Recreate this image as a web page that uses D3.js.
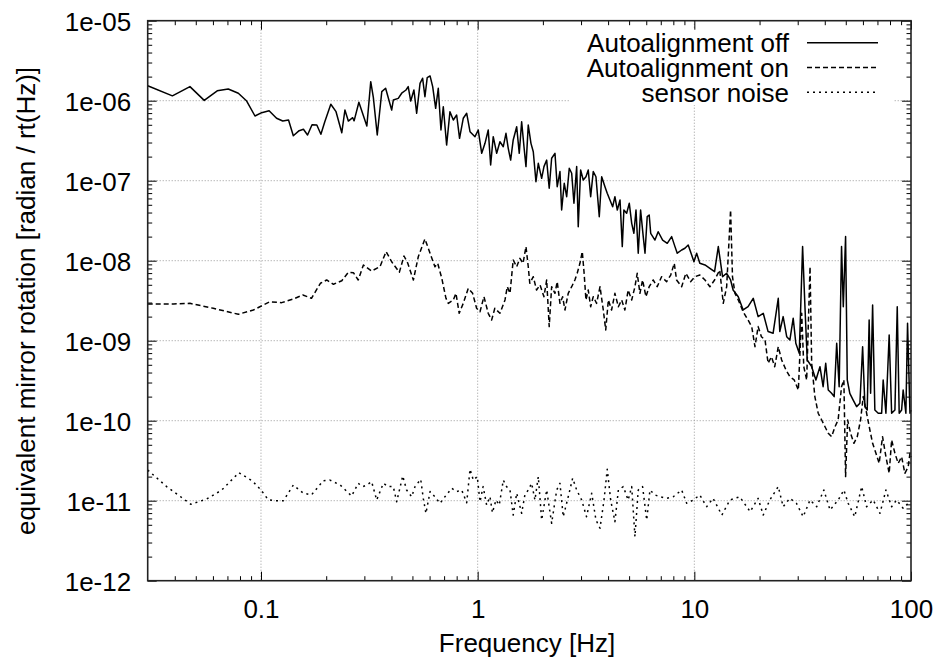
<!DOCTYPE html>
<html>
<head>
<meta charset="utf-8">
<script src="https://cdn.jsdelivr.net/npm/d3@7"></script>
<style>
body { margin: 0; background: #fff; }
svg { display: block; font-family: "Liberation Sans", Arial, Helvetica, sans-serif; }
</style>
</head>
<body>
<svg id="chart" width="935" height="664"></svg>
<script>
// [frequency Hz, amplitude rad/rtHz]
let autoOff = [[0.03,1.54e-6],[0.039,1.15e-6],[0.047,1.50e-6],[0.0547,1.01e-6],[0.0628,1.33e-6],[0.0706,1.40e-6],[0.0786,1.24e-6],[0.0859,9.9e-7],[0.0938,6.44e-7],[0.1007,7.08e-7],[0.109,7.50e-7],[0.118,6.03e-7],[0.126,5.57e-7],[0.134,5.74e-7],[0.141,3.65e-7],[0.150,4.22e-7],[0.157,4.39e-7],[0.164,3.73e-7],[0.172,5.01e-7],[0.181,4.97e-7],[0.189,3.80e-7],[0.197,5.46e-7],[0.210,9.02e-7],[0.222,7.29e-7],[0.236,3.98e-7],[0.244,7.65e-7],[0.253,5.57e-7],[0.265,6.13e-7],[0.269,5.6e-7],[0.283,9.55e-7],[0.308,4.83e-7],[0.321,1.73e-6],[0.330,1.10e-6],[0.344,3.73e-7],[0.361,1.30e-6],[0.376,1.43e-6],[0.401,7.65e-7],[0.408,1.02e-6],[0.430,1.07e-6],[0.446,1.24e-6],[0.467,1.36e-6],[0.478,1.50e-6],[0.491,9.9e-7],[0.508,1.36e-6],[0.523,6.96e-7],[0.542,1.65e-6],[0.557,1.91e-6],[0.571,1.12e-6],[0.585,1.94e-6],[0.603,2.04e-6],[0.620,1.50e-6],[0.640,8.04e-7],[0.658,1.43e-6],[0.677,4.30e-7],[0.694,8.41e-7],[0.719,2.79e-7],[0.745,7.29e-7],[0.772,5.74e-7],[0.800,6.62e-7],[0.825,3.39e-7],[0.858,6.03e-7],[0.890,6.96e-7],[0.922,4.10e-7],[0.972,3.55e-7],[1.006,4.30e-7],[1.044,2.20e-7],[1.081,2.93e-7],[1.119,4.30e-7],[1.148,1.57e-7],[1.180,3.55e-7],[1.224,2.20e-7],[1.267,3.07e-7],[1.313,2.66e-7],[1.351,3.91e-7],[1.384,2.54e-7],[1.420,1.81e-7],[1.459,3.23e-7],[1.514,4.73e-7],[1.556,2.20e-7],[1.596,5.46e-7],[1.636,2.66e-7],[1.671,1.50e-7],[1.712,4.97e-7],[1.762,2.93e-7],[1.806,2.30e-7],[1.858,9.7e-8],[1.905,1.65e-7],[1.974,1.07e-7],[2.023,1.50e-7],[2.082,1.81e-7],[2.139,8.04e-8],[2.195,1.91e-7],[2.274,2.20e-7],[2.329,8.41e-8],[2.398,1.30e-7],[2.441,4.30e-8],[2.510,9.28e-8],[2.575,6.31e-8],[2.647,1.43e-7],[2.716,1.24e-7],[2.782,5.22e-8],[2.864,1.50e-7],[2.912,2.66e-8],[2.987,1.36e-7],[3.071,1.02e-7],[3.161,1.12e-7],[3.239,1.36e-7],[3.323,6.31e-8],[3.416,1.30e-7],[3.515,1.12e-7],[3.641,3.55e-8],[3.736,1.12e-7],[3.868,8.41e-8],[3.963,6.96e-8],[4.079,5.74e-8],[4.198,4.73e-8],[4.30,6.31e-8],[4.41,4.30e-8],[4.54,5.74e-8],[4.65,1.50e-8],[4.73,4.30e-8],[4.87,3.91e-8],[5.01,5.22e-8],[5.14,2.93e-8],[5.26,2.20e-8],[5.38,4.30e-8],[5.51,1.24e-8],[5.65,4.30e-8],[5.81,2.0e-8],[5.92,1.24e-8],[6.06,3.55e-8],[6.19,3.73e-8],[6.29,2.20e-8],[6.58,1.81e-8],[6.81,2.30e-8],[7.14,1.81e-8],[7.50,1.65e-8],[7.86,2.0e-8],[8.14,1.50e-8],[8.34,1.24e-8],[8.74,1.36e-8],[9.05,1.43e-8],[9.37,1.57e-8],[9.72,1.18e-8],[9.96,9.7e-9],[10.25,1.24e-8],[10.6,9.28e-9],[11.2,8.84e-9],[11.8,8.04e-9],[12.4,7.29e-9],[12.9,1.50e-8],[13.5,6.31e-9],[14.1,6.96e-9],[14.7,5.74e-9],[15.1,4.30e-9],[15.95,3.55e-9],[16.8,2.42e-9],[17.7,2.66e-9],[18.7,3.39e-9],[19.7,2.0e-9],[20.8,2.20e-9],[21.9,1.30e-9],[23.1,1.24e-9],[24.4,3.39e-9],[24.8,1.30e-9],[25.7,2.0e-9],[26.7,1.12e-9],[27.6,1.02e-9],[28.6,1.91e-9],[29.4,9.28e-10],[30.5,6.96e-10],[31.6,1.50e-8],[32.4,2.66e-9],[33.2,5.74e-10],[34.8,4.73e-10],[36.4,3.23e-10],[38.0,4.73e-10],[39.3,2.66e-10],[40.4,5.22e-10],[41.5,2.42e-10],[43.0,2.20e-10],[44.2,2.0e-10],[45.4,9.28e-10],[46.6,2.66e-10],[47.8,1.50e-8],[48.7,2.66e-9],[49.9,2.0e-8],[50.8,3.23e-10],[52.2,2.20e-10],[54.1,1.81e-10],[56.1,1.50e-10],[58.1,1.65e-10],[59.8,8.41e-10],[61.3,1.50e-10],[62.8,1.36e-10],[64.1,1.81e-9],[65.1,2.20e-10],[66.5,2.79e-9],[68.1,1.36e-10],[70.6,1.24e-10],[73.2,1.24e-10],[74.4,3.23e-10],[76.6,1.24e-10],[79.3,1.18e-9],[81.4,1.24e-10],[84.3,1.36e-10],[86.4,2.66e-9],[88.2,1.24e-10],[90.5,1.36e-10],[92.0,2.42e-10],[94.7,1.24e-10],[96.4,1.65e-9],[98.9,1.24e-10],[100,1.36e-10]]

let autoOn = [[0.03,2.88e-9],[0.0395,2.88e-9],[0.047,2.93e-9],[0.0602,2.54e-9],[0.0786,2.14e-9],[0.0922,2.42e-9],[0.110,3.07e-9],[0.1246,2.99e-9],[0.141,3.32e-9],[0.156,3.73e-9],[0.171,3.39e-9],[0.188,5.22e-9],[0.201,5.74e-9],[0.216,5.07e-9],[0.236,5.62e-9],[0.253,7.16e-9],[0.267,7.08e-9],[0.281,5.74e-9],[0.297,8.84e-9],[0.324,7.43e-9],[0.354,8.41e-9],[0.378,1.30e-8],[0.401,9.7e-9],[0.435,7.16e-9],[0.457,1.145e-8],[0.475,9.4e-9],[0.505,5.74e-9],[0.532,1.12e-8],[0.571,1.87e-8],[0.603,1.24e-8],[0.635,8.41e-9],[0.654,9.28e-9],[0.683,6.03e-9],[0.714,3.39e-9],[0.732,2.93e-9],[0.772,3.23e-9],[0.794,3.91e-9],[0.822,2.20e-9],[0.858,2.93e-9],[0.905,4.52e-9],[0.948,3.91e-9],[0.989,2.54e-9],[1.025,2.30e-9],[1.069,3.55e-9],[1.119,2.20e-9],[1.16,1.81e-9],[1.20,2.54e-9],[1.267,2.20e-9],[1.337,3.23e-9],[1.37,4.73e-9],[1.41,3.91e-9],[1.459,1.02e-8],[1.514,8.41e-9],[1.567,1.07e-8],[1.62,9.28e-9],[1.671,1.50e-8],[1.712,8.41e-9],[1.74,5.22e-9],[1.806,6.31e-9],[1.87,4.30e-9],[1.94,4.97e-9],[2.023,3.55e-9],[2.082,5.74e-9],[2.139,1.50e-9],[2.195,4.73e-9],[2.274,3.91e-9],[2.329,5.46e-9],[2.398,2.93e-9],[2.467,3.55e-9],[2.529,2.42e-9],[2.618,3.91e-9],[2.716,4.73e-9],[2.81,5.74e-9],[2.88,6.96e-9],[2.965,9.28e-9],[3.04,1.30e-8],[3.10,6.96e-9],[3.161,3.23e-9],[3.239,4.30e-9],[3.323,2.66e-9],[3.416,3.55e-9],[3.54,2.93e-9],[3.67,4.73e-9],[3.80,2.42e-9],[3.90,1.36e-9],[4.01,3.23e-9],[4.15,2.42e-9],[4.30,3.91e-9],[4.46,2.66e-9],[4.62,3.23e-9],[4.78,2.42e-9],[4.95,4.30e-9],[5.14,3.23e-9],[5.32,4.73e-9],[5.45,6.96e-9],[5.61,3.91e-9],[5.77,5.74e-9],[5.98,3.55e-9],[6.19,4.73e-9],[6.46,5.74e-9],[6.74,4.73e-9],[7.06,6.31e-9],[7.45,5.46e-9],[7.78,6.62e-9],[8.08,9.28e-9],[8.28,5.74e-9],[8.74,4.73e-9],[9.14,6.96e-9],[9.61,5.46e-9],[10.06,6.31e-9],[10.6,6.62e-9],[11.2,5.74e-9],[11.8,4.73e-9],[12.4,5.74e-9],[13.1,7.65e-9],[13.6,2.93e-9],[14.1,4.73e-9],[14.7,4.30e-8],[15.0,6.31e-9],[15.4,3.91e-9],[15.95,3.23e-9],[16.8,2.30e-9],[17.7,1.81e-9],[18.4,1.50e-9],[19.05,8.41e-10],[19.7,1.50e-9],[20.4,1.12e-9],[21.2,1.02e-9],[21.9,5.22e-10],[22.7,6.31e-10],[23.5,4.73e-10],[24.4,8.41e-10],[25.3,5.74e-10],[26.5,4.30e-10],[27.6,3.55e-10],[28.9,3.23e-10],[30.2,2.42e-10],[31.3,2.20e-9],[32.0,4.73e-10],[33.0,3.23e-10],[34.2,8.41e-9],[34.8,5.22e-10],[36.0,2.0e-10],[37.3,1.24e-10],[38.7,1.02e-10],[40.1,8.41e-11],[41.5,6.96e-11],[43.0,6.31e-11],[44.6,8.41e-11],[46.1,1.02e-10],[47.8,2.66e-10],[49.0,3.23e-10],[49.9,2.0e-11],[51.0,1.02e-10],[52.6,6.96e-11],[54.5,5.22e-11],[56.5,6.31e-11],[58.5,1.02e-10],[60.2,2.0e-10],[62.4,1.24e-10],[64.6,7.65e-11],[66.5,5.22e-11],[68.9,3.91e-11],[71.3,2.93e-11],[73.9,6.31e-11],[76.6,3.55e-11],[79.3,2.20e-11],[81.4,5.74e-11],[84.3,3.91e-11],[87.3,2.93e-11],[90.5,3.55e-11],[93.7,2.20e-11],[97.1,2.66e-11],[98.9,3.91e-11],[100,3.5e-11]]

let sensorNoise = [[0.03,2.42e-11],[0.0367,1.50e-11],[0.0475,9.02e-12],[0.0562,1.05e-11],[0.0659,1.36e-11],[0.0791,2.24e-11],[0.0914,1.76e-11],[0.1,1.36e-11],[0.108,1.03e-11],[0.116,1.0e-11],[0.127,1.0e-11],[0.141,1.57e-11],[0.157,1.24e-11],[0.171,1.18e-11],[0.194,1.78e-11],[0.208,1.81e-11],[0.232,1.57e-11],[0.262,1.145e-11],[0.281,1.65e-11],[0.295,1.50e-11],[0.308,1.57e-11],[0.324,1.73e-11],[0.342,1.02e-11],[0.367,1.65e-11],[0.387,1.50e-11],[0.408,1.50e-11],[0.423,9.7e-12],[0.451,2.04e-11],[0.470,1.36e-11],[0.496,1.12e-11],[0.514,1.50e-11],[0.546,1.85e-11],[0.561,1.07e-11],[0.577,6.96e-12],[0.603,1.30e-11],[0.635,1.12e-11],[0.670,9.28e-12],[0.706,1.12e-11],[0.759,1.43e-11],[0.80,1.30e-11],[0.844,1.36e-11],[0.89,9.44e-12],[0.922,2.47e-11],[0.955,1.81e-11],[0.996,2.0e-11],[1.025,9.7e-12],[1.06,1.50e-11],[1.10,8.84e-12],[1.14,1.12e-11],[1.17,7.08e-12],[1.215,1.02e-11],[1.258,8.84e-12],[1.313,1.81e-11],[1.36,1.50e-11],[1.41,1.36e-11],[1.459,6.62e-12],[1.514,1.24e-11],[1.596,6.96e-12],[1.652,1.18e-11],[1.712,1.36e-11],[1.775,1.65e-11],[1.838,1.02e-11],[1.905,2.0e-11],[1.974,5.74e-12],[2.082,1.36e-11],[2.195,5.22e-12],[2.316,1.36e-11],[2.398,1.65e-11],[2.483,6.31e-12],[2.618,1.12e-11],[2.744,1.91e-11],[2.864,1.36e-11],[3.02,1.02e-11],[3.18,6.31e-12],[3.36,1.24e-11],[3.515,5.74e-12],[3.67,4.52e-12],[3.83,1.02e-11],[3.963,2.47e-11],[4.11,1.02e-11],[4.30,5.46e-12],[4.46,1.36e-11],[4.70,1.50e-11],[4.95,1.02e-11],[5.14,1.50e-11],[5.32,3.55e-12],[5.51,1.36e-11],[5.77,1.50e-11],[6.03,5.74e-12],[6.24,1.36e-11],[6.58,1.18e-11],[6.94,1.12e-11],[7.45,1.07e-11],[7.99,1.12e-11],[8.74,1.36e-11],[9.22,9.28e-12],[9.89,1.02e-11],[10.6,1.18e-11],[11.4,8.41e-12],[12.2,1.07e-11],[13.4,6.62e-12],[14.6,1.02e-11],[16.2,1.12e-11],[18.1,7.29e-12],[19.7,1.07e-11],[20.8,6.62e-12],[22.3,1.02e-11],[24.4,1.50e-11],[25.7,8.41e-12],[27.6,1.07e-11],[29.6,9.28e-12],[31.8,6.31e-12],[34.2,1.02e-11],[36.7,8.41e-12],[39.6,1.36e-11],[42.3,7.65e-12],[46.1,1.02e-11],[49.0,1.36e-11],[51.3,9.28e-12],[55.0,6.31e-12],[59.2,1.50e-11],[62.4,8.41e-12],[66.9,1.02e-11],[71.9,6.96e-12],[76.6,1.36e-11],[81.4,8.41e-12],[85.8,1.02e-11],[92.0,8.04e-12],[97.1,9.28e-12],[100,8.84e-12]]

let seriesNames = ["Autoalignment off", "Autoalignment on", "sensor noise"]
let xTickValues = [0.1, 1, 10, 100]
let xTickLabels = ["0.1", "1", "10", "100"]
let yTickValues = [1e-12, 1e-11, 1e-10, 1e-9, 1e-8, 1e-7, 1e-6, 1e-5]
let yTickLabels = ["1e-12", "1e-11", "1e-10", "1e-09", "1e-08", "1e-07", "1e-06", "1e-05"]

let plotLeft = 147.7, plotRight = 911, plotTop = 20.7, plotBottom = 580.7
let fontSize = 26

let svg = d3.select("#chart")

let x = d3.scaleLog().domain([0.03, 100]).range([plotLeft, plotRight])
let y = d3.scaleLog().domain([1e-12, 1e-5]).range([plotBottom, plotTop])

let minorX = []
;[0.01, 0.1, 1, 10].forEach((d) => {
    for (let k = 2; k < 10; k++) {
        let v = d * k
        if (v > 0.0301 && v < 100) minorX.push(v)
    }
})
let minorY = []
yTickValues.slice(0, -1).forEach((d) => {
    for (let k = 2; k < 10; k++) minorY.push(d * k)
})

// grid
let grid = svg.append("g")
    .attr("stroke", "#999")
    .attr("stroke-width", 1)
    .attr("stroke-dasharray", "1,2")
grid.selectAll(".gx")
    .data(xTickValues.slice(0, -1))
    .enter()
    .append("line")
    .attr("x1", (d) => x(d)).attr("x2", (d) => x(d))
    .attr("y1", plotTop).attr("y2", plotBottom)
grid.selectAll(".gy")
    .data(yTickValues.slice(1, -1))
    .enter()
    .append("line")
    .attr("x1", plotLeft).attr("x2", plotRight)
    .attr("y1", (d) => y(d)).attr("y2", (d) => y(d))

// legend background hides the grid
svg.append("rect")
    .attr("x", 570).attr("y", 28)
    .attr("width", 323).attr("height", 77)
    .attr("fill", "#fff")

// curves
let line = d3.line()
    .x((d) => x(d[0]))
    .y((d) => y(d[1]))

let dashes = [null, "5,3", "2,4"]
let allSeries = [autoOff, autoOn, sensorNoise]

svg.selectAll(".curve")
    .data(allSeries)
    .enter()
    .append("path")
    .attr("class", "curve")
    .attr("d", line)
    .attr("fill", "none")
    .attr("stroke", "#000")
    .attr("stroke-width", 1.5)
    .attr("stroke-linejoin", "round")
    .attr("stroke-dasharray", (d, i) => dashes[i])

// axes
let styleAxis = (g) => {
    g.select(".domain").remove()
    g.attr("font-size", fontSize)
        .attr("font-family", null)
    g.selectAll("line").attr("stroke", "#000")
    g.selectAll("text").attr("fill", "#000")
}

svg.append("g")
    .attr("transform", `translate(0,${plotBottom})`)
    .call(d3.axisBottom(x).tickValues(xTickValues)
        .tickFormat((d, i) => xTickLabels[i])
        .tickSize(-9).tickPadding(19))
    .call(styleAxis)
svg.append("g")
    .attr("transform", `translate(0,${plotBottom})`)
    .call(d3.axisBottom(x).tickValues(minorX).tickFormat("").tickSize(-4.5))
    .call(styleAxis)
svg.append("g")
    .attr("transform", `translate(0,${plotTop})`)
    .call(d3.axisTop(x).tickValues(xTickValues).tickFormat("").tickSize(-9))
    .call(styleAxis)
svg.append("g")
    .attr("transform", `translate(0,${plotTop})`)
    .call(d3.axisTop(x).tickValues(minorX).tickFormat("").tickSize(-4.5))
    .call(styleAxis)

svg.append("g")
    .attr("transform", `translate(${plotLeft},0)`)
    .call(d3.axisLeft(y).tickValues(yTickValues)
        .tickFormat((d, i) => yTickLabels[i])
        .tickSize(-9).tickPadding(16.5))
    .call(styleAxis)
    .call((g) => g.selectAll("text").attr("dy", "0.38em"))
svg.append("g")
    .attr("transform", `translate(${plotLeft},0)`)
    .call(d3.axisLeft(y).tickValues(minorY).tickFormat("").tickSize(-4.5))
    .call(styleAxis)
svg.append("g")
    .attr("transform", `translate(${plotRight},0)`)
    .call(d3.axisRight(y).tickValues(yTickValues).tickFormat("").tickSize(-9))
    .call(styleAxis)
svg.append("g")
    .attr("transform", `translate(${plotRight},0)`)
    .call(d3.axisRight(y).tickValues(minorY).tickFormat("").tickSize(-4.5))
    .call(styleAxis)

// frame
svg.append("rect")
    .attr("x", plotLeft).attr("y", plotTop)
    .attr("width", plotRight - plotLeft).attr("height", plotBottom - plotTop)
    .attr("fill", "none")
    .attr("stroke", "#222")
    .attr("stroke-width", 1.6)

// axis titles
svg.append("text")
    .attr("x", 527).attr("y", 652)
    .attr("text-anchor", "middle")
    .attr("font-size", fontSize)
    .text("Frequency [Hz]")
svg.append("text")
    .attr("transform", "translate(35,301) rotate(-90)")
    .attr("text-anchor", "middle")
    .attr("font-size", fontSize)
    .text("equivalent mirror rotation [radian / rt(Hz)]")

// legend
let legend = svg.selectAll(".key")
    .data(seriesNames)
    .enter()
    .append("g")
    .attr("class", "key")
    .attr("transform", (d, i) => `translate(0,${42.7 + i * 24.8})`)
legend.append("text")
    .attr("x", 789).attr("y", 9.4)
    .attr("text-anchor", "end")
    .attr("font-size", fontSize)
    .text((d) => d)
legend.append("line")
    .attr("x1", 807).attr("x2", 878)
    .attr("stroke", "#000")
    .attr("stroke-width", 1.5)
    .attr("stroke-dasharray", (d, i) => dashes[i])
</script>
</body>
</html>
